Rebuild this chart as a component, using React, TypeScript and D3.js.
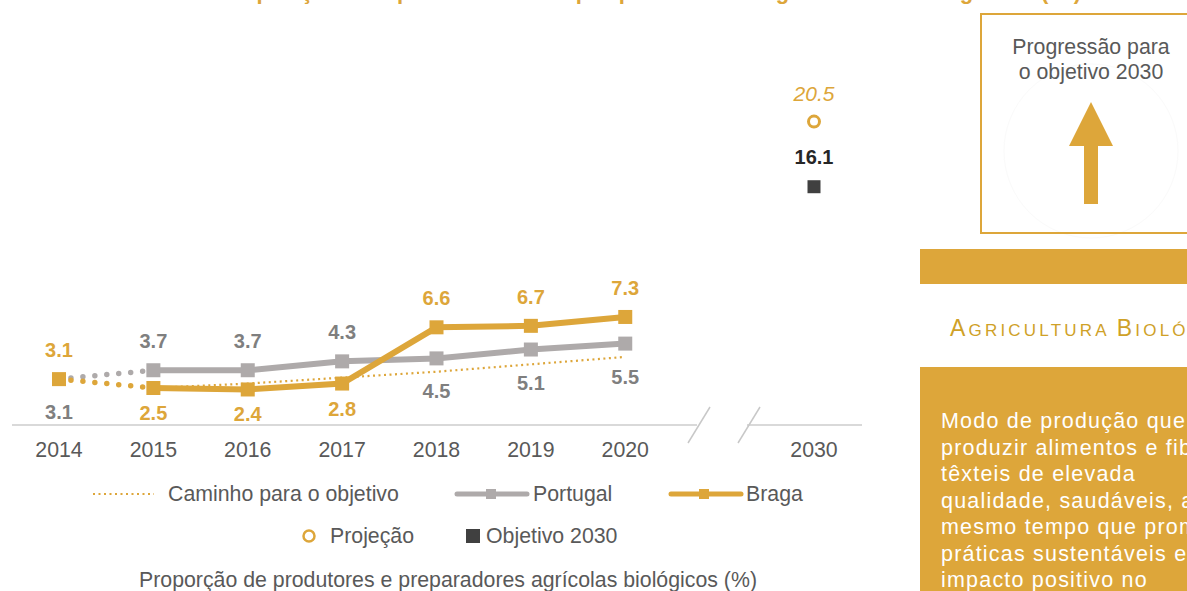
import React from "react";
import * as d3 from "d3";

const years = ["2014", "2015", "2016", "2017", "2018", "2019", "2020"];
const portugal = [3.1, 3.7, 3.7, 4.3, 4.5, 5.1, 5.5];
const braga = [3.1, 2.5, 2.4, 2.8, 6.6, 6.7, 7.3];
const pathYears = ["2015", "2016", "2017", "2018", "2019", "2020"];
const pathValues = [2.5, 2.8, 3.2, 3.6, 4.1, 4.6];
const targetYear = "2030";
const projection2030 = 20.5;
const objective2030 = 16.1;
const axisSlots = ["2014", "2015", "2016", "2017", "2018", "2019", "2020", "gap", "2030"];
const tickLabels = ["2014", "2015", "2016", "2017", "2018", "2019", "2020", "2030"];
const portugalLabelPos = ["below", "above", "above", "above", "below", "below", "below"];
const bragaLabelPos = ["above", "below", "below", "below", "above", "above", "above"];

const titleText = "Proporção de produtores e preparadores agrícolas biológicos (%)";
const captionText = "Proporção de produtores e preparadores agrícolas biológicos (%)";
const descLines = [
  "Modo de produção que visa",
  "produzir alimentos e fibras",
  "têxteis de elevada",
  "qualidade, saudáveis, ao",
  "mesmo tempo que promove",
  "práticas sustentáveis e de",
  "impacto positivo no",
];

const ORANGE = "#DDA63A";
const GREY = "#AEAAAA";
const DARKGREY = "#7F7F7F";
const TEXT = "#595959";
const DARK = "#404040";
const FONT = "'Liberation Sans', Arial, sans-serif";
const FS = 21.3;

export default function App() {
  const W = 1187, H = 591;
  const x = d3.scalePoint<string>().domain(axisSlots).range([59, 814]);
  const y = d3.scaleLinear().domain([0, 20]).range([425, 129]);

  const line = d3.line<[string, number]>().x((d) => x(d[0])!).y((d) => y(d[1]));

  const portugalMain = years.slice(1).map((yr, i) => [yr, portugal[i + 1]] as [string, number]);
  const bragaMain = years.slice(1).map((yr, i) => [yr, braga[i + 1]] as [string, number]);
  const portugalDots: [string, number][] = [[years[0], portugal[0]], [years[1], portugal[1]]];
  const bragaDots: [string, number][] = [[years[0], braga[0]], [years[1], braga[1]]];
  const pathData = pathYears.map((yr, i) => [yr, pathValues[i]] as [string, number]);

  const mk = 14;
  const axisY = y(0);

  return (
    <svg width={W} height={H} style={{ position: "absolute", left: 0, top: 0, background: "#fff" }} fontFamily={FONT}>
      {/* clipped title */}
      <text x={211} y={-1.5} fontSize={22} fontWeight="bold" fill={ORANGE} textLength={870} lengthAdjust="spacing">
        {titleText}
      </text>

      {/* axis */}
      <line x1={12} x2={697} y1={axisY} y2={axisY} stroke="#D9D9D9" strokeWidth={2} />
      <line x1={747} x2={862} y1={axisY} y2={axisY} stroke="#D9D9D9" strokeWidth={2} />
      <line x1={688} y1={443} x2={710} y2={407} stroke="#C8C8C8" strokeWidth={1.5} />
      <line x1={738} y1={443} x2={760} y2={407} stroke="#C8C8C8" strokeWidth={1.5} />
      {tickLabels.map((t) => (
        <text key={t} x={x(t)} y={457} textAnchor="middle" fontSize={FS} fill={TEXT}>{t}</text>
      ))}

      {/* path to objective */}
      <path d={line(pathData)!} fill="none" stroke={ORANGE} strokeWidth={2.2} strokeDasharray="2 3.5" />

      {/* dotted 2014-2015 */}
      <path d={line(portugalDots)!} fill="none" stroke={GREY} strokeWidth={5.5} strokeLinecap="round" strokeDasharray="0 12" />
      <path d={line(bragaDots)!} fill="none" stroke={ORANGE} strokeWidth={5.5} strokeLinecap="round" strokeDasharray="0 12" />

      {/* Portugal */}
      <path d={line(portugalMain)!} fill="none" stroke={GREY} strokeWidth={6} />
      {portugalMain.map((d) => (
        <rect key={"p" + d[0]} x={x(d[0])! - mk / 2} y={y(d[1]) - mk / 2} width={mk} height={mk} fill={GREY} />
      ))}
      {/* Braga */}
      <path d={line(bragaMain)!} fill="none" stroke={ORANGE} strokeWidth={6} />
      {years.map((yr, i) => (
        <rect key={"b" + yr} x={x(yr)! - mk / 2} y={y(braga[i]) - mk / 2} width={mk} height={mk} fill={ORANGE} />
      ))}

      {/* labels */}
      {years.map((yr, i) => (
        <text key={"pl" + yr} x={x(yr)} y={y(portugal[i]) + (portugalLabelPos[i] === "above" ? -22 : 40)}
          textAnchor="middle" fontSize={20} fontWeight="bold" fill={DARKGREY}>
          {portugal[i].toFixed(1)}
        </text>
      ))}
      {years.map((yr, i) => (
        <text key={"bl" + yr} x={x(yr)} y={y(braga[i]) + (bragaLabelPos[i] === "above" ? -22 : 32)}
          textAnchor="middle" fontSize={20} fontWeight="bold" fill={ORANGE}>
          {braga[i].toFixed(1)}
        </text>
      ))}

      {/* 2030 */}
      <text x={x(targetYear)} y={y(projection2030) - 21} textAnchor="middle" fontSize={21} fontStyle="italic" fill={ORANGE}>
        {projection2030.toFixed(1)}
      </text>
      <circle cx={x(targetYear)} cy={y(projection2030)} r={5.5} fill="none" stroke={ORANGE} strokeWidth={3} />
      <text x={x(targetYear)} y={y(objective2030) - 23} textAnchor="middle" fontSize={20} fontWeight="bold" fill="#262626">
        {objective2030.toFixed(1)}
      </text>
      <rect x={x(targetYear)! - 6.5} y={y(objective2030) - 6.5} width={13} height={13} fill={DARK} />

      {/* legend row 1 */}
      <line x1={93} x2={154} y1={494} y2={494} stroke={ORANGE} strokeWidth={2.2} strokeDasharray="2 3.5" />
      <text x={168} y={501} fontSize={FS} fill={TEXT}>Caminho para o objetivo</text>
      <line x1={457} x2={527} y1={494} y2={494} stroke={GREY} strokeWidth={5} strokeLinecap="round" />
      <rect x={486} y={489} width={10} height={10} fill={GREY} />
      <text x={533} y={501} fontSize={FS} fill={TEXT}>Portugal</text>
      <line x1={671} x2={741} y1={494} y2={494} stroke={ORANGE} strokeWidth={5} strokeLinecap="round" />
      <rect x={699} y={489} width={10} height={10} fill={ORANGE} />
      <text x={746} y={501} fontSize={FS} fill={TEXT}>Braga</text>
      {/* legend row 2 */}
      <circle cx={309} cy={536} r={5.5} fill="none" stroke={ORANGE} strokeWidth={2.5} />
      <text x={330} y={543} fontSize={FS} fill={TEXT}>Projeção</text>
      <rect x={466} y={529} width={14} height={14} fill={DARK} />
      <text x={486} y={543} fontSize={FS} fill={TEXT}>Objetivo 2030</text>

      <text x={448} y={587} textAnchor="middle" fontSize={FS} fill={TEXT}>{captionText}</text>

      {/* right panel */}
      <circle cx={1091} cy={151} r={87} fill="none" stroke="#FAFAFA" strokeWidth={1} />
      <rect x={981} y={14} width={230} height={219} fill="none" stroke={ORANGE} strokeWidth={2} />
      <text x={1091} y={54} textAnchor="middle" fontSize={FS} fill={TEXT}>Progressão para</text>
      <text x={1091} y={79} textAnchor="middle" fontSize={FS} fill={TEXT}>o objetivo 2030</text>
      <path d="M1091,102 L1113,146 L1098,146 L1098,204 L1084,204 L1084,146 L1069,146 Z" fill={ORANGE} />

      <rect x={920} y={249} width={267} height={35} fill={ORANGE} />
      <text x={950} y={336} fill="#CFA127" letterSpacing={3.2}>
        <tspan fontSize={23}>A</tspan>
        <tspan fontSize={17}>GRICULTURA </tspan>
        <tspan fontSize={23}>B</tspan>
        <tspan fontSize={17}>IOLÓGICA</tspan>
      </text>

      <rect x={920} y={367} width={267} height={224} fill={ORANGE} />
      {descLines.map((l, i) => (
        <text key={i} x={941} y={428 + i * 26.5} fontSize={21.5} fill="#fff" letterSpacing={1.2}>{l}</text>
      ))}
    </svg>
  );
}
